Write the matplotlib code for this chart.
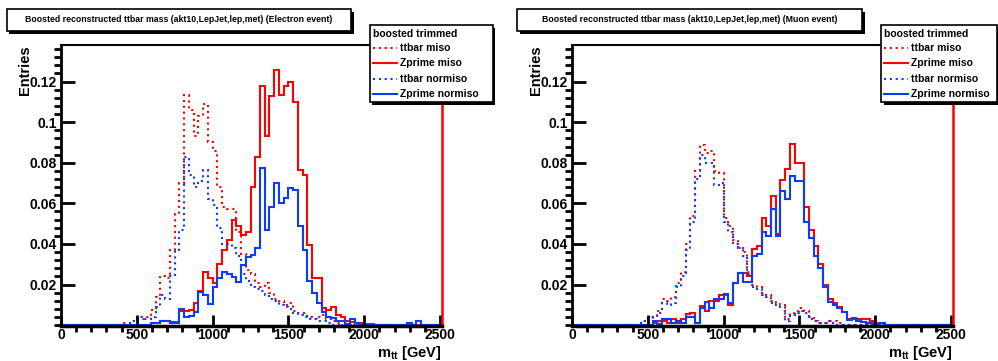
import numpy as np
import matplotlib
matplotlib.use("Agg")
import matplotlib.pyplot as plt
from matplotlib.patches import Rectangle
from matplotlib.lines import Line2D
from matplotlib.ticker import MultipleLocator, FuncFormatter

plt.rcParams['font.family'] = ['Liberation Sans', 'DejaVu Sans']
plt.rcParams['font.weight'] = 'bold'
plt.rcParams['mathtext.fontset'] = 'custom'
plt.rcParams['mathtext.rm'] = 'Liberation Sans:bold'
plt.rcParams['mathtext.it'] = 'Liberation Sans:bold'
plt.rcParams['mathtext.bf'] = 'Liberation Sans:bold'

# histogram binning: 80 bins of 31.25 GeV, values listed from first_bin on
bin_width = 31.25
n_bins = 80
first_bin = 12

# Electron event
el_ttbar_miso = [0.000, 0.001, 0.001, 0.002, 0.003, 0.003, 0.004, 0.0074, 0.014, 0.024,
                 0.023, 0.037, 0.055, 0.070, 0.1136, 0.106, 0.093, 0.103, 0.1087, 0.090,
                 0.086, 0.068, 0.058, 0.057, 0.057, 0.046, 0.035, 0.027, 0.025, 0.021,
                 0.019, 0.021, 0.016, 0.013, 0.012, 0.010, 0.011, 0.007, 0.006, 0.006,
                 0.004, 0.003, 0.004, 0.005, 0.003, 0.002, 0.001]
el_zprime_miso = [0, 0, 0, 0, 0, 0, 0, 0.001, 0.001, 0.002,
                  0.002, 0.0015, 0.0015, 0.0072, 0.0072, 0.0075, 0.011, 0.017, 0.026, 0.023,
                  0.021, 0.030, 0.037, 0.042, 0.052, 0.049, 0.0445, 0.046, 0.068, 0.083,
                  0.1177, 0.093, 0.113, 0.1256, 0.1133, 0.118, 0.120, 0.110, 0.0766, 0.074,
                  0.0395, 0.023, 0.023, 0.0084, 0.0075, 0.009, 0.005, 0.004, 0.002, 0.0015,
                  0.001, 0.001, 0.0005, 0.0005]
el_ttbar_normiso = [0, 0, 0.001, 0.002, 0.004, 0.003, 0.003, 0.004, 0.009, 0.015,
                    0.013, 0.024, 0.037, 0.047, 0.083, 0.074, 0.068, 0.071, 0.0766, 0.062,
                    0.059, 0.048, 0.040, 0.040, 0.038, 0.034, 0.025, 0.022, 0.019, 0.018,
                    0.017, 0.015, 0.013, 0.012, 0.010, 0.009, 0.008, 0.006, 0.005, 0.004,
                    0.003, 0.003, 0.002, 0.002, 0.001]
el_zprime_normiso = [0, 0, 0, 0, 0, 0, 0, 0.001, 0.001, 0.002,
                     0.002, 0.001, 0.001, 0.008, 0.004, 0.0045, 0.0065, 0.0165, 0.015, 0.0105,
                     0.019, 0.023, 0.026, 0.025, 0.0235, 0.0215, 0.0296, 0.0337, 0.0346, 0.038,
                     0.0774, 0.047, 0.0584, 0.070, 0.060, 0.0627, 0.0676, 0.0667, 0.049, 0.037,
                     0.022, 0.016, 0.011, 0.0066, 0.004, 0.0035, 0.002, 0.002, 0.0005, 0.003,
                     0.001, 0, 0, 0, 0, 0, 0, 0, 0, 0,
                     0, 0.001, 0, 0.002]

# Muon event
mu_ttbar_miso = [0, 0, 0.001, 0.002, 0.004, 0.004, 0.007, 0.013, 0.012, 0.014,
                 0.021, 0.026, 0.040, 0.054, 0.076, 0.0886, 0.085, 0.086, 0.076, 0.075,
                 0.053, 0.049, 0.042, 0.038, 0.036, 0.026, 0.020, 0.019, 0.016, 0.015,
                 0.012, 0.011, 0.010, 0.003, 0.006, 0.007, 0.0085, 0.007, 0.004, 0.002,
                 0.001, 0.001, 0.002, 0.002, 0.001]
mu_zprime_miso = [0, 0, 0, 0, 0, 0.001, 0.0023, 0.002, 0.001, 0.003,
                  0.001, 0.003, 0.0056, 0.006, 0.001, 0.0094, 0.007, 0.012, 0.012, 0.015,
                  0.015, 0.010, 0.021, 0.0257, 0.0257, 0.024, 0.0375, 0.039, 0.053, 0.049,
                  0.0635, 0.045, 0.0714, 0.0768, 0.089, 0.080, 0.080, 0.058, 0.047, 0.039,
                  0.030, 0.020, 0.013, 0.0108, 0.009, 0.0064, 0.003, 0.003, 0.003, 0.003,
                  0.003, 0.002, 0.001, 0.001]
mu_ttbar_normiso = [0, 0, 0.001, 0.002, 0.003, 0.004, 0.006, 0.011, 0.010, 0.011,
                    0.019, 0.024, 0.037, 0.051, 0.072, 0.084, 0.080, 0.080, 0.069, 0.070,
                    0.051, 0.046, 0.040, 0.038, 0.034, 0.025, 0.019, 0.018, 0.015, 0.014,
                    0.011, 0.010, 0.009, 0.002, 0.005, 0.006, 0.007, 0.006, 0.003, 0.002,
                    0.001, 0.001, 0.002, 0.001]
mu_zprime_normiso = [0, 0, 0, 0, 0, 0.002, 0.0005, 0.003, 0.003, 0.001,
                     0.002, 0.001, 0.004, 0.004, 0.001, 0.0086, 0.0115, 0.0086, 0.013, 0.013,
                     0.0156, 0.011, 0.021, 0.0257, 0.0213, 0.0213, 0.034, 0.035, 0.0457, 0.044,
                     0.057, 0.044, 0.066, 0.062, 0.0735, 0.071, 0.071, 0.051, 0.0428, 0.0342,
                     0.028, 0.0187, 0.0113, 0.0097, 0.0084, 0.0064, 0.0028, 0.0035, 0.0023, 0.0015,
                     0.001, 0.001, 0.0005, 0.001]

channels = ['Electron event', 'Muon event']
series_labels = ['ttbar miso', 'Zprime miso', 'ttbar normiso', 'Zprime normiso']
panel_data = [
    [el_ttbar_miso, el_zprime_miso, el_ttbar_normiso, el_zprime_normiso],
    [mu_ttbar_miso, mu_zprime_miso, mu_ttbar_normiso, mu_zprime_normiso],
]
red, blue = '#ff0000', '#0a3cff'
series_colors = [red, red, blue, blue]
dots = (0, (1.0, 1.8))
series_styles = [dots, '-', dots, '-']

edges = np.arange(n_bins + 1) * bin_width


def full(vals):
    out = np.zeros(n_bins)
    out[first_bin:first_bin + len(vals)] = vals
    return out


W, H = 998, 361
fig = plt.figure(figsize=(W / 100, H / 100), dpi=100)


def fx(px):
    return px / W


def fy(py):
    return 1 - py / H


def shadow_box(x0, y0, x1, y1):
    sh = Rectangle((fx(x0) + 2.5 / W, fy(y1) - 2.5 / H), (x1 - x0) / W, (y1 - y0) / H,
                   transform=fig.transFigure, facecolor='black', edgecolor='none', zorder=5)
    bx = Rectangle((fx(x0), fy(y1)), (x1 - x0) / W, (y1 - y0) / H,
                   transform=fig.transFigure, facecolor='white', edgecolor='black',
                   lw=1.2, zorder=6)
    fig.patches.extend([sh, bx])


axes_left = [61, 572]
title_boxes = [(7, 9, 351, 31), (517, 9, 862, 31)]
legend_boxes = [(370, 25, 493, 102), (881, 25, 997, 102)]

for k, chan in enumerate(channels):
    ax = fig.add_axes([fx(axes_left[k]), fy(326), 381 / W, 281 / H])
    for vals, col, ls in zip(panel_data[k], series_colors, series_styles):
        ax.stairs(full(vals), edges, color=col, lw=1.5, linestyle=ls)

    ax.set_xlim(0, 2513)
    ax.set_ylim(-0.0004, 0.138)
    ax.xaxis.set_major_locator(MultipleLocator(500))
    ax.xaxis.set_minor_locator(MultipleLocator(100))
    ax.set_yticks([0.02, 0.04, 0.06, 0.08, 0.1, 0.12])
    ax.yaxis.set_minor_locator(MultipleLocator(0.004))
    ax.yaxis.set_major_formatter(FuncFormatter(lambda v, p: f'{v:g}'))
    ax.tick_params(direction='in', labelsize=10, width=2, top=False, right=False)
    ax.tick_params(axis='x', which='major', length=8, pad=1.5)
    ax.tick_params(axis='x', which='minor', length=4, width=2)
    ax.tick_params(axis='y', which='major', length=10, pad=3)
    ax.tick_params(axis='y', which='minor', length=5, width=2)
    for lab in ax.get_xticklabels() + ax.get_yticklabels():
        lab.set_fontweight('bold')

    ax.spines['bottom'].set_linewidth(2.5)
    ax.spines['left'].set_linewidth(2)
    ax.spines['top'].set_linewidth(1.5)
    ax.spines['right'].set_linewidth(1.8)
    ax.spines['right'].set_color(red)

    ax.set_ylabel('Entries', fontsize=10.5, fontweight='bold', rotation=90,
                  ha='right', va='center')
    ax.yaxis.set_label_coords(-0.094, 1.0)
    ax.set_xlabel(r'm$_{\mathbf{tt}}$ [GeV]', fontsize=10.5, fontweight='bold',
                  ha='right', va='center')
    ax.xaxis.set_label_coords(1.0, -27 / 281)

    # title box
    x0, y0, x1, y1 = title_boxes[k]
    shadow_box(x0, y0, x1, y1)
    fig.text(fx((x0 + x1) / 2), fy((y0 + y1) / 2),
             f'Boosted reconstructed ttbar mass (akt10,LepJet,lep,met) ({chan})',
             ha='center', va='center', fontsize=6.3, fontweight='bold', zorder=7)

    # legend
    x0, y0, x1, y1 = legend_boxes[k]
    shadow_box(x0, y0, x1, y1)
    fig.text(fx(x0 + 3), fy(34), 'boosted trimmed', ha='left', va='center',
             fontsize=7.5, fontweight='bold', zorder=7)
    for j, (lab, col, ls) in enumerate(zip(series_labels, series_colors, series_styles)):
        yy = [48, 63, 79, 94][j]
        fig.add_artist(Line2D([fx(x0 + 3), fx(x0 + 27)], [fy(yy), fy(yy)],
                              transform=fig.transFigure, color=col, lw=1.5,
                              linestyle=ls, zorder=7))
        fig.text(fx(x0 + 30), fy(yy), lab, ha='left', va='center',
                 fontsize=7.5, fontweight='bold', zorder=7)

fig.savefig('out.png', dpi=100)
